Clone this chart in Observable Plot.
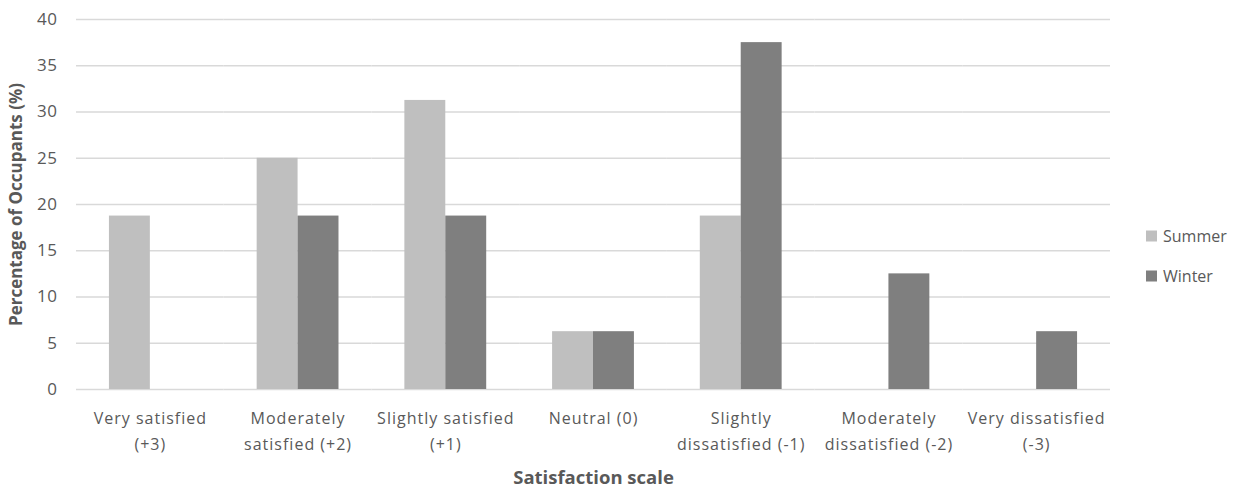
<!DOCTYPE html>
<html>
<head>
<meta charset="utf-8">
<script src="https://cdn.jsdelivr.net/npm/d3@7"></script>
<script src="https://cdn.jsdelivr.net/npm/@observablehq/plot@0.6"></script>
<style>
  html, body { margin: 0; padding: 0; background: #fff; }
  #chart svg { display: block; }
</style>
</head>
<body>
<div id="chart"></div>
<script>
// Satisfaction categories (axis labels wrap on "\n")
const categories = [
  "Very satisfied\n(+3)",
  "Moderately\nsatisfied (+2)",
  "Slightly satisfied\n(+1)",
  "Neutral (0)",
  "Slightly\ndissatisfied (-1)",
  "Moderately\ndissatisfied (-2)",
  "Very dissatisfied\n(-3)"
];
const seasons = ["Summer", "Winter"];
const seasonColors = ["#bfbfbf", "#7f7f7f"];
// Percentage of occupants per category
const summerValues = [18.75, 25, 31.25, 6.25, 18.75, 0, 0];
const winterValues = [0, 18.75, 18.75, 6.25, 37.5, 12.5, 6.25];
const yTicks = [0, 5, 10, 15, 20, 25, 30, 35, 40];

const rows = [];
categories.forEach((c, i) => {
  rows.push({category: c, season: "Summer", value: summerValues[i]});
  rows.push({category: c, season: "Winter", value: winterValues[i]});
});

const FONT = "'Open Sans', sans-serif";
const textColor = "#595959";

const chart = Plot.plot({
  width: 1239,
  height: 488,
  marginTop: 19,
  marginBottom: 99,
  marginLeft: 76,
  marginRight: 129,
  style: {fontFamily: FONT, fontSize: "16px", color: textColor, background: "#fff"},
  fx: {domain: categories, padding: 0, round: false, axis: null},
  x: {domain: seasons, paddingInner: 0, paddingOuter: 0.805, round: false, axis: null},
  y: {domain: [0, 40]},
  color: {domain: seasons, range: seasonColors},
  marks: [
    Plot.gridY(yTicks, {stroke: "#d9d9d9", strokeOpacity: 1, strokeWidth: 1.5}),
    Plot.barY(rows, {fx: "category", x: "season", y: "value", fill: "season"}),
    Plot.axisY(yTicks, {
      tickSize: 0, tickPadding: 19, fontSize: 17,
      label: "Percentage of Occupants (%)", labelAnchor: "center", labelArrow: "none", labelOffset: 67
    }),
    Plot.axisFx({
      anchor: "bottom",
      tickSize: 0, tickPadding: 16, fontSize: 16, lineHeight: 1.62,
      label: "Satisfaction scale", labelAnchor: "center", labelArrow: "none", labelOffset: 94
    })
  ]
});

document.getElementById("chart").appendChild(chart);

const svg = d3.select(chart);
svg.selectAll("g[aria-label='fx-axis tick label']").attr("letter-spacing", 1);
svg.selectAll("g[aria-label='y-axis tick label']").attr("letter-spacing", 0.5);
svg.selectAll("g[aria-label='y-axis label']")
  .attr("font-weight", "bold").attr("font-size", 17).attr("fill", textColor);
svg.selectAll("g[aria-label='fx-axis label']")
  .attr("font-weight", "bold").attr("font-size", 18.5).attr("fill", textColor);

// Legend on the right of the plot area
const legend = svg.append("g").attr("font-family", FONT).attr("font-size", 16).attr("text-anchor", "start");
seasons.forEach((s, i) => {
  const y = 236 + i * 40;
  legend.append("rect").attr("x", 1146).attr("y", y - 5.5).attr("width", 11).attr("height", 11).attr("fill", seasonColors[i]);
  legend.append("text").attr("x", 1163).attr("y", y).attr("dy", "0.35em").attr("fill", textColor).text(s);
});
</script>
</body>
</html>
